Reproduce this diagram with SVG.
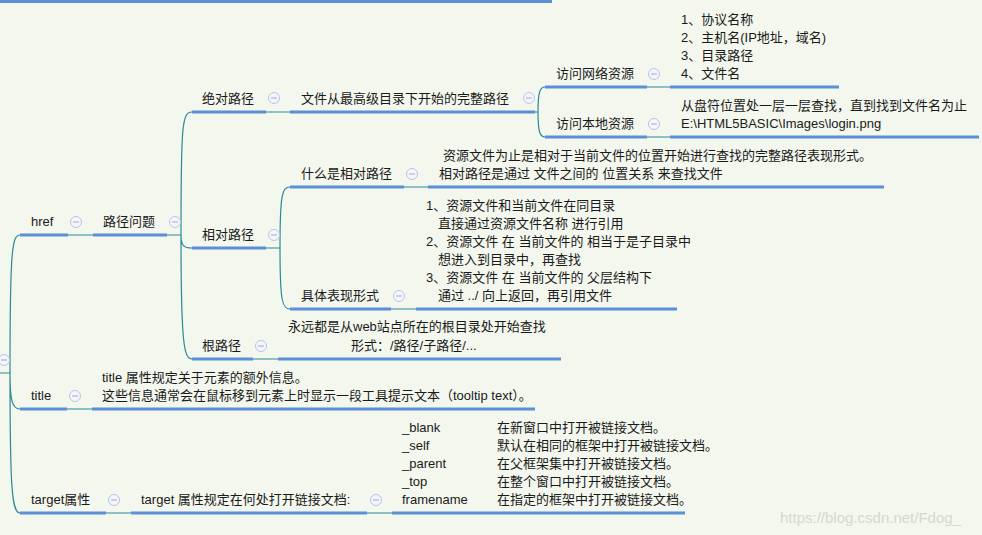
<svg xmlns="http://www.w3.org/2000/svg" width="982" height="535" viewBox="0 0 982 535">
<defs>
<style>
text{font-family:"Liberation Sans","Noto Sans CJK SC",sans-serif;font-size:13px;fill:#1a1a1a}
.u{stroke:#5b8fd6;stroke-width:3;fill:none}
.c{stroke:#2a8a96;stroke-width:1.2;fill:none}
.t{fill:#f4f6fb;stroke:#b8c4e6;stroke-width:1}
.m{stroke:#9aa8d8;stroke-width:1}
</style>
<g id="tog"><circle class="t" cx="0" cy="0" r="5.5"/><line class="m" x1="-3" y1="0" x2="3" y2="0"/></g>
</defs>
<rect width="982" height="535" fill="#f3f7ee"/>
<rect x="0" y="0" width="552" height="3" fill="#5b8fd6"/>
<g id="connectors">
<path class="c" d="M0,373 H10 M10,373 C10,250 12,235 20,235 M10,373 C10,400 12,409 20,409 M10,373 C10,490 12,513 20,513"/>
<path class="c" d="M68,235 H93 M167,235 H181 M181,235 C181,125 182,112 192,112 M181,235 C181,246 184,248 192,248 M181,235 C181,345 184,359 192,359"/>
<path class="c" d="M266,112 H290 M535,112 H538 M538,112 C538,92 540,87 545,87 M538,112 C538,132 540,137 545,137 M647,87 H670 M647,137 H670"/>
<path class="c" d="M266,248 H280 M280,248 C280,195 282,187 290,187 M280,248 C280,300 282,309 290,309 M404,187 H428 M391,309 H416 M253,359 H278"/>
<path class="c" d="M67,409 H92 M106,513 H131 M367,513 H392"/>
</g>
<g id="href"><text x="31" y="226">href</text><line class="u" x1="20" y1="235" x2="68" y2="235"/><use href="#tog" x="76" y="222"/></g>
<g id="lujingwenti"><text x="103" y="226">路径问题</text><line class="u" x1="93" y1="235" x2="167" y2="235"/><use href="#tog" x="175" y="222"/></g>
<g id="juedui"><text x="202" y="103">绝对路径</text><line class="u" x1="192" y1="112" x2="266" y2="112"/><use href="#tog" x="274" y="98"/></g>
<g id="juedui-desc"><text x="301" y="103">文件从最高级目录下开始的完整路径</text><line class="u" x1="290" y1="112" x2="535" y2="112"/><use href="#tog" x="529" y="98"/></g>
<g id="wangluo"><text x="556" y="78">访问网络资源</text><line class="u" x1="545" y1="87" x2="647" y2="87"/><use href="#tog" x="654" y="74"/></g>
<g id="wangluo-desc"><text x="681" y="24">1、协议名称</text><text x="681" y="42">2、主机名(IP地址，域名)</text><text x="681" y="60">3、目录路径</text><text x="681" y="78">4、文件名</text><line class="u" x1="670" y1="87" x2="839" y2="87"/></g>
<g id="bendi"><text x="556" y="128">访问本地资源</text><line class="u" x1="545" y1="137" x2="647" y2="137"/><use href="#tog" x="654" y="124"/></g>
<g id="bendi-desc"><text x="681" y="110">从盘符位置处一层一层查找，直到找到文件名为止</text><text x="681" y="128">E:\HTML5BASIC\Images\login.png</text><line class="u" x1="670" y1="137" x2="979" y2="137"/></g>
<g id="xiangdui"><text x="202" y="239">相对路径</text><line class="u" x1="192" y1="248" x2="266" y2="248"/><use href="#tog" x="274" y="235"/></g>
<g id="shenme"><text x="301" y="178">什么是相对路径</text><line class="u" x1="290" y1="187" x2="404" y2="187"/><use href="#tog" x="412" y="174"/></g>
<g id="shenme-desc"><text x="443" y="160">资源文件为止是相对于当前文件的位置开始进行查找的完整路径表现形式。</text><text x="439" y="178">相对路径是通过 文件之间的 位置关系 来查找文件</text><line class="u" x1="428" y1="187" x2="884" y2="187"/></g>
<g id="juti"><text x="301" y="300">具体表现形式</text><line class="u" x1="290" y1="309" x2="391" y2="309"/><use href="#tog" x="399" y="296"/></g>
<g id="juti-desc"><text x="426" y="210">1、资源文件和当前文件在同目录</text><text x="438" y="228">直接通过资源文件名称 进行引用</text><text x="426" y="246">2、资源文件 在 当前文件的 相当于是子目录中</text><text x="438" y="264">想进入到目录中，再查找</text><text x="426" y="282">3、资源文件 在 当前文件的 父层结构下</text><text x="438" y="300">通过 ../ 向上返回，再引用文件</text><line class="u" x1="416" y1="309" x2="677" y2="309"/></g>
<g id="gen"><text x="202" y="350">根路径</text><line class="u" x1="192" y1="359" x2="253" y2="359"/><use href="#tog" x="261" y="346"/></g>
<g id="gen-desc"><text x="288" y="331">永远都是从web站点所在的根目录处开始查找</text><text x="351" y="350">形式：/路径/子路径/...</text><line class="u" x1="278" y1="359" x2="561" y2="359"/></g>
<g id="root"><use href="#tog" x="4" y="360"/></g>
<g id="title"><text x="31" y="400">title</text><line class="u" x1="20" y1="409" x2="67" y2="409"/><use href="#tog" x="75" y="396"/></g>
<g id="title-desc"><text x="102" y="382">title 属性规定关于元素的额外信息。</text><text x="102" y="400">这些信息通常会在鼠标移到元素上时显示一段工具提示文本（tooltip text）。</text><line class="u" x1="92" y1="409" x2="535" y2="409"/></g>
<g id="target"><text x="31" y="504">target属性</text><line class="u" x1="20" y1="513" x2="106" y2="513"/><use href="#tog" x="114" y="500"/></g>
<g id="target-desc"><text x="141" y="504">target 属性规定在何处打开链接文档:</text><line class="u" x1="131" y1="513" x2="367" y2="513"/><use href="#tog" x="376" y="500"/></g>
<g id="target-values"><text x="402" y="432">_blank</text><text x="497" y="432">在新窗口中打开被链接文档。</text><text x="402" y="450">_self</text><text x="497" y="450">默认在相同的框架中打开被链接文档。</text><text x="402" y="468">_parent</text><text x="497" y="468">在父框架集中打开被链接文档。</text><text x="402" y="486">_top</text><text x="497" y="486">在整个窗口中打开被链接文档。</text><text x="402" y="504">framename</text><text x="497" y="504">在指定的框架中打开被链接文档。</text><line class="u" x1="392" y1="513" x2="685" y2="513"/></g>
<text x="780" y="523" style="fill:#d4d8d4;font-size:15px">https://blog.csdn.net/Fdog_</text>
</svg>
